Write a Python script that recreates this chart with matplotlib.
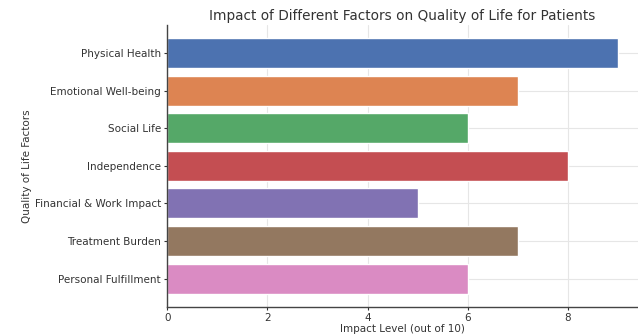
import matplotlib
matplotlib.use("Agg")
import matplotlib.pyplot as plt
import seaborn as sns

factors = ["Physical Health", "Emotional Well-being", "Social Life", "Independence",
           "Financial & Work Impact", "Treatment Burden", "Personal Fulfillment"]
impact = [9, 7, 6, 8, 5, 7, 6]
colors = sns.color_palette("deep", len(factors))

sns.set_style("whitegrid")
plt.rcParams['font.family'] = ['DejaVu Sans']

fig = plt.figure(figsize=(6.38, 3.35), dpi=100)
ax = fig.add_axes([0.262, 0.085, 0.738, 0.84])

ax.barh(factors, impact, color=colors, height=0.8)
ax.invert_yaxis()
ax.set_xlim(0, 9.4)

ax.set_title("Impact of Different Factors on Quality of Life for Patients",
             fontsize=9.8, color="#333333", pad=4)
ax.set_xlabel("Impact Level (out of 10)", fontsize=7.5, color="#333333", labelpad=1)
ax.set_ylabel("Quality of Life Factors", fontsize=7.5, color="#333333")
ax.yaxis.set_label_coords(-0.288, 0.5)
ax.tick_params(axis='both', labelsize=7.5, colors="#333333", length=2.5, width=0.8, pad=2)
ax.tick_params(axis='both', which='both', left=True, bottom=True)
ax.set_xticks([0, 2, 4, 6, 8])

for s in ["top", "right"]:
    ax.spines[s].set_visible(False)
for s in ["left", "bottom"]:
    ax.spines[s].set_color("#444444")
    ax.spines[s].set_linewidth(1.0)
ax.grid(True, color="#e6e6e6", linewidth=0.8)

fig.savefig("out.png", dpi=100)
